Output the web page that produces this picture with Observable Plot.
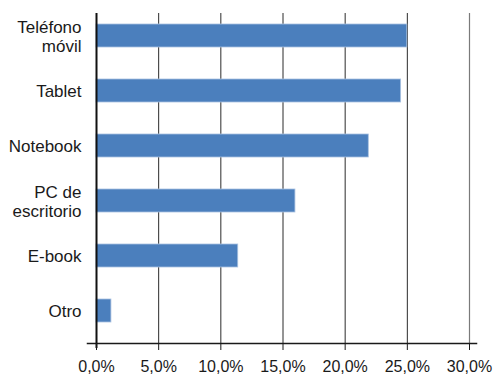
<!DOCTYPE html>
<html>
<head>
<meta charset="utf-8">
<script src="https://cdn.jsdelivr.net/npm/d3@7"></script>
<script src="https://cdn.jsdelivr.net/npm/@observablehq/plot@0.6"></script>
<style>
  html, body { margin: 0; padding: 0; background: #fff; }
</style>
</head>
<body>
<div id="chart"></div>
<script>
const categories = ["Teléfono\nmóvil", "Tablet", "Notebook", "PC de\nescritorio", "E-book", "Otro"];
const values = [25.0, 24.5, 21.9, 16.0, 11.4, 1.2];
const xTicks = [0, 5, 10, 15, 20, 25, 30];

const data = categories.map((c, i) => ({category: c, value: values[i]}));
const fmt = d => d.toFixed(1).replace(".", ",") + "%";

const chart = Plot.plot({
  width: 500,
  height: 383,
  marginLeft: 96,
  marginRight: 31,
  marginTop: 13,
  marginBottom: 40,
  style: {fontFamily: "'Liberation Sans', Arial, sans-serif", color: "#1a1a1a", background: "#fff"},
  x: {domain: [0, 30]},
  y: {domain: categories, paddingInner: 0.58, paddingOuter: 0.29, align: 0.34},
  marks: [
    Plot.ruleX(xTicks.filter(d => d > 0 && d < 30), {stroke: "#2b2b2b", strokeWidth: 1}),
    Plot.ruleX(xTicks.filter(d => d === 30), {stroke: "#7a7a7a", strokeWidth: 1.2}),
    Plot.barX(data, {x: "value", y: "category", fill: "#4b7fbd", stroke: "#a9c1e0", strokeWidth: 0.8}),
    Plot.frame({anchor: "bottom", stroke: "#1a1a1a", strokeWidth: 1.5, insetLeft: -9, insetRight: -7}),
    Plot.ruleX([0], {stroke: "#111", strokeWidth: 2, insetBottom: -5}),
    Plot.axisX({ticks: xTicks, tickFormat: fmt, tickSize: 7, tickPadding: 10, fontSize: 16, label: null, stroke: "#1a1a1a"}),
    Plot.axisY({tickSize: 0, tickPadding: 15, fontSize: 17, lineHeight: 1.13, label: null})
  ]
});
document.getElementById("chart").appendChild(chart);
</script>
</body>
</html>
